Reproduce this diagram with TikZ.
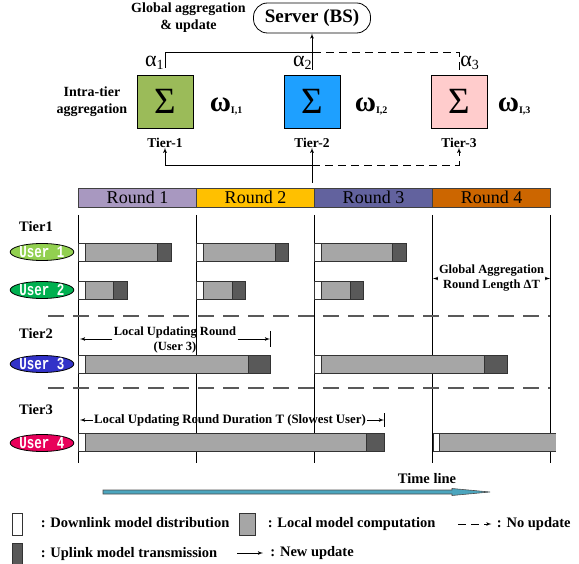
\documentclass[tikz,border=0pt]{standalone}
\usepackage{graphicx}
\usepackage{fontspec}
\setmainfont{Liberation Serif}
\newfontfamily\userfont{Liberation Mono}
\usetikzlibrary{shapes,arrows,positioning}

\definecolor{tiergreen}{RGB}{155,187,89}
\definecolor{tierblue}{RGB}{30,160,255}
\definecolor{tierpink}{RGB}{255,204,204}
\definecolor{roundA}{RGB}{168,152,192}
\definecolor{roundB}{RGB}{255,192,0}
\definecolor{roundC}{RGB}{98,98,158}
\definecolor{roundD}{RGB}{204,102,0}
\definecolor{userA}{RGB}{146,208,80}
\definecolor{userB}{RGB}{0,176,80}
\definecolor{userC}{RGB}{50,50,200}
\definecolor{userD}{RGB}{232,0,90}
\definecolor{compgray}{RGB}{166,166,166}
\definecolor{sendgray}{RGB}{89,89,89}
\definecolor{timeblue}{RGB}{75,165,190}

\begin{document}
\begin{tikzpicture}[x=1pt, y=-1pt, line width=0.8pt,
    lbl/.style={inner sep=0pt, align=center, font=\bfseries\fontsize{14}{17}\selectfont},
    note/.style={inner sep=1pt, align=center, font=\bfseries\fontsize{12.5}{15}\selectfont},
    tierbox/.style={rectangle, draw, minimum width=56pt, minimum height=53pt, inner sep=0pt, font=\fontsize{37}{37}\selectfont},
    weight/.style={inner sep=0pt, font=\bfseries\fontsize{29}{29}\selectfont},
    coef/.style={inner sep=0pt, font=\fontsize{22}{22}\selectfont},
    roundbar/.style={rectangle, draw=black!75, minimum width=118pt, minimum height=19pt, inner sep=0pt, outer sep=0pt, font=\fontsize{18}{18}\selectfont},
    user/.style={ellipse, draw, minimum width=61pt, minimum height=17pt, inner sep=0pt, text=white, font=\userfont\bfseries\fontsize{12.5}{12.5}\selectfont},
    dl/.style={draw=black!80, fill=white},
    lc/.style={draw=black!80, fill=compgray},
    ul/.style={draw=black!80, fill=sendgray},
    key/.style={rectangle, draw=black!80, minimum width=10pt, minimum height=22pt, inner sep=0pt},
    keytext/.style={inner sep=0pt, anchor=west, text height=10pt, text depth=3pt, font=\bfseries\fontsize{14.5}{14.5}\selectfont},
    line/.style={draw, -latex'},
    noupd/.style={dash pattern=on 8pt off 5pt},
    tiersep/.style={draw=black!65, line width=1.2pt, dash pattern=on 16pt off 9pt}
]
    \useasboundingbox (0,0) rectangle (579,564);

    % Hierarchical aggregation
    \node[draw, rounded corners=14pt, minimum width=117pt, minimum height=30pt, inner sep=0pt, font=\bfseries\fontsize{19}{19}\selectfont] (srv) at (312,18) {Server (BS)};
    \node[lbl, left=7pt of srv] (glob) {Global aggregation\\\& update};

    \node[tierbox, fill=tiergreen] (t1) at (165,101.5) {Σ};
    \node[tierbox, fill=tierblue] (t2) at (312,101.5) {Σ};
    \node[tierbox, fill=tierpink] (t3) at (459,101.5) {Σ};
    \node[lbl, left=9pt of t1] (intra) {Intra-tier\\aggregation};

    \node[weight, right=16pt of t1, yshift=-5pt] (w1) {ω{\fontsize{10}{10}\selectfont\raisebox{-2pt}{I,1}}};
    \node[weight, right=14pt of t2, yshift=-5pt] (w2) {ω{\fontsize{10}{10}\selectfont\raisebox{-2pt}{I,2}}};
    \node[weight, right=10pt of t3, yshift=-5pt] (w3) {ω{\fontsize{10}{10}\selectfont\raisebox{-2pt}{I,3}}};

    \node[lbl, font=\bfseries\fontsize{13.5}{14}\selectfont, below=9pt of t1] (l1) {Tier-1};
    \node[lbl, font=\bfseries\fontsize{13.5}{14}\selectfont, below=9pt of t2] (l2) {Tier-2};
    \node[lbl, font=\bfseries\fontsize{13.5}{14}\selectfont, below=9pt of t3] (l3) {Tier-3};

    \node[coef, above left=5pt and 1pt of t1.north] (a1) {α{\fontsize{14}{14}\selectfont\raisebox{-3pt}{1}}};
    \node[coef, above left=5pt and 0pt of t2.north] (a2) {α{\fontsize{14}{14}\selectfont\raisebox{-3pt}{2}}};
    \node[coef, above right=5pt and 1pt of t3.north] (a3) {α{\fontsize{14}{14}\selectfont\raisebox{-3pt}{3}}};

    % Connections
    \coordinate (bus) at (312,52);
    \coordinate (bus2) at (312,165);
    \coordinate (feed) at (312,183);
    \draw ([yshift=7pt]t1.north) |- (bus);
    \draw[noupd] ([yshift=5pt]t3.north) |- (bus);
    \path[line] ([yshift=5pt]t2.north) -- (srv);
    \path[line] (feed) -- (l2.south);
    \path[line] (bus2) -| (l1.south);
    \path[line, noupd] (bus2) -| (l3.south);

    % Global rounds
    \node[roundbar, fill=roundA] (r1) at (137.5,197.5) {Round 1};
    \node[roundbar, fill=roundB, right=0pt of r1] (r2) {Round 2};
    \node[roundbar, fill=roundC, right=0pt of r2] (r3) {Round 3};
    \node[roundbar, fill=roundD, right=0pt of r3] (r4) {Round 4};

    \draw ([yshift=-8pt]r1.south west) -- ++(0,248);
    \draw ([yshift=-8pt]r2.south west) -- ++(0,248);
    \draw ([yshift=-8pt]r3.south west) -- ++(0,248);
    \draw ([yshift=-8pt]r4.south west) -- ++(0,248);
    \draw ([yshift=-8pt]r4.south east) -- ++(0,248);

    % Tiers and users
    \node[lbl, font=\bfseries\fontsize{14.5}{15}\selectfont] (tier1) at (36,227) {Tier1};
    \node[lbl, font=\bfseries\fontsize{14.5}{15}\selectfont] (tier2) at (36,334) {Tier2};
    \node[lbl, font=\bfseries\fontsize{14.5}{15}\selectfont] (tier3) at (36,410) {Tier3};
    \node[user, fill=userA] (u1) at (42,252) {\scalebox{1}[1.35]{User 1}};
    \node[user, fill=userB] (u2) at (42,290) {\scalebox{1}[1.35]{User 2}};
    \node[user, fill=userC] (u3) at (42,364) {\scalebox{1}[1.35]{User 3}};
    \node[user, fill=userD] (u4) at (42,443) {\scalebox{1}[1.35]{User 4}};

    \draw[tiersep] (48,316) -- (550,316);
    \draw[tiersep] (48,388) -- (550,388);

    % Round 1
    \draw[dl] (78,243) rectangle (85,261); \draw[lc] (85,243) rectangle (157,261); \draw[ul] (157,243) rectangle (171,261);
    \draw[dl] (78,281) rectangle (85,299); \draw[lc] (85,281) rectangle (113,299); \draw[ul] (113,281) rectangle (127,299);
    \draw[dl] (78,355) rectangle (85,373); \draw[lc] (85,355) rectangle (248,373); \draw[ul] (248,355) rectangle (270,373);
    \draw[dl] (78,433) rectangle (85,451); \draw[lc] (85,433) rectangle (366,451); \draw[ul] (366,433) rectangle (384,451);
    % Round 2
    \draw[dl] (196,243) rectangle (203,261); \draw[lc] (203,243) rectangle (275,261); \draw[ul] (275,243) rectangle (288,261);
    \draw[dl] (196,281) rectangle (203,299); \draw[lc] (203,281) rectangle (232,299); \draw[ul] (232,281) rectangle (245,299);
    % Round 3
    \draw[dl] (314,243) rectangle (321,261); \draw[lc] (321,243) rectangle (392,261); \draw[ul] (392,243) rectangle (406,261);
    \draw[dl] (314,281) rectangle (321,299); \draw[lc] (321,281) rectangle (350,299); \draw[ul] (350,281) rectangle (363,299);
    \draw[dl] (314,355) rectangle (321,373); \draw[lc] (321,355) rectangle (484,373); \draw[ul] (484,355) rectangle (507,373);
    % Round 4
    \draw[dl] (433,433) rectangle (439,451); \path[lc] (556,433) -- (439,433) -- (439,451) -- (556,451);

    % Durations
    \node[note] (lur) at (175,339.5) {Local Updating Round\\(User 3)};
    \coordinate (lurl) at (80,339);
    \coordinate (lurr) at (270,339);
    \path[line] (lur.west |- lurl) -- (lurl);
    \path[line] (lur.east |- lurr) -- (lurr);
    \draw ([yshift=8pt]lurr) -- ([yshift=-8pt]lurr);

    \node[note, font=\bfseries\fontsize{12.8}{15}\selectfont] (lud) at (230,420) {Local Updating Round Duration T (Slowest User)};
    \coordinate (ludl) at (80,420);
    \coordinate (ludr) at (384,420);
    \path[line] (lud.west) -- (ludl);
    \path[line] (lud.east) -- (ludr);
    \draw ([yshift=7pt]ludr) -- ([yshift=-7pt]ludr);

    \node[note, font=\bfseries\fontsize{12.5}{15}\selectfont] (gar) at (491.5,278.5) {Global Aggregation\\Round Length ΔT};
    \coordinate (garl) at (433,278.5);
    \coordinate (garr) at (550,278.5);
    \path[line] (gar.west) -- (garl);
    \path[line] (gar.east) -- (garr);

    % Time line
    \node[lbl, font=\bfseries\fontsize{14.5}{15}\selectfont] (tl) at (427,479) {Time line};
    \filldraw[fill=timeblue, draw=black!70, line width=0.6pt] (103,490) -- (452,490) -- (452,488.5) -- (490,492) -- (452,495.5) -- (452,494) -- (103,494) -- cycle;

    % Legend
    \node[key, fill=white] (kdl) at (17,524) {};
    \node[keytext, right=18pt of kdl] (tdl) {: Downlink model distribution};
    \node[key, fill=compgray, minimum width=16pt] (klc) at (247,524) {};
    \node[keytext, right=12pt of klc] (tlc) {: Local model computation};
    \coordinate (nu0) at (458,524);
    \node[keytext, anchor=east] (tnu) at (571,524) {: No update};
    \path[line, noupd] (nu0) -- ([xshift=-5pt]tnu.west);

    \node[key, fill=sendgray, minimum height=21pt] (kul) at (17,553.5) {};
    \node[keytext, right=18pt of kul] (tul) {: Uplink model transmission};
    \coordinate (nw0) at (237,553);
    \node[keytext] (tnw) at (270,553) {: New update};
    \path[line] (nw0) -- ([xshift=-7pt]tnw.west);

\end{tikzpicture}
\end{document}
